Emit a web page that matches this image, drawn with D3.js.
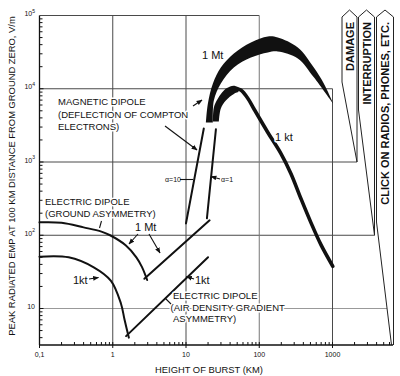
<!DOCTYPE html>
<html>
<head>
<meta charset="utf-8">
<script src="https://cdn.jsdelivr.net/npm/d3@7"></script>
<style>
body { margin: 0; background: #fff; }
text { font-family: "Liberation Sans", Arial, sans-serif; fill: #111; }
.halo { paint-order: stroke; stroke: #fff; stroke-width: 3px; stroke-linejoin: round; }
</style>
</head>
<body>
<script>
// Data (height of burst in km, peak field in V/m)
var hobTicks = [0.1, 1, 10, 100, 1000];
var hobLabels = ["0,1", "1", "10", "100", "1000"];
var empTicks = [10, 100, 1000, 10000, 100000];
var empExp = ["", "2", "3", "4", "5"];

// Electric dipole, ground asymmetry
var ground1Mt = [[0.1, 150], [0.2, 148], [0.4, 128], [0.7, 112], [0.92, 100], [1.5, 73], [2.1, 50], [2.5, 37], [2.95, 24.5]];
var ground1kt = [[0.1, 51], [0.25, 50], [0.55, 36.5], [0.94, 24], [1.29, 11.8], [1.45, 7], [1.66, 4.0]];
// Electric dipole, air density gradient asymmetry
var air1Mt = [[2.7, 25.5], [21, 160]];
var air1kt = [[1.52, 4.2], [20, 50]];
// Magnetic dipole, rising branches for two alpha values
var alpha10 = [[17.5, 2870], [10, 145]];
var alpha1 = [[25.6, 2790], [19.3, 170]];
// Magnetic dipole bands
var mag1MtOuter = [[18.7, 3470], [19.9, 6300], [23.3, 11800], [29.9, 19500], [45, 30300], [77, 42800], [131, 51700], [179, 50100], [336, 36600], [556, 19500], [761, 11800], [1010, 6500]];
var mag1MtInner = [[23.3, 3470], [24, 6900], [29.9, 11800], [45, 19500], [77, 26700], [131, 31300], [179, 32300], [336, 25900], [556, 14300], [1010, 6300]];
var mag1ktOuter = [[23.3, 3580], [24, 5560], [27.3, 7380], [32.9, 9490], [40, 10700], [45, 11000], [52, 10500]];
var mag1ktInner = [[28.1, 3580], [29.9, 5380], [35, 6920], [45, 8500], [52, 9000]];
var mag1ktLine = [[50, 10000], [56, 9600], [70, 7380], [84, 5380], [131, 2530], [197, 1310], [270, 698], [370, 318], [506, 150], [692, 75], [1010, 37.7]];

// Effect arrows on the right
var effects = ["DAMAGE", "INTERRUPTION", "CLICK ON RADIOS, PHONES, ETC."];
var effectLevels = [1000, 100, null];

// Settings
var w = 400, h = 376;
var xEnd = 393, yBottom = 345;

var x = d3.scaleLog().domain([0.1, 1000]).range([39.5, 332.5]);
var y = d3.scaleLog().domain([10, 100000]).range([308.5, 15.5]);

var svg = d3.select("body").append("svg")
  .attr("width", w)
  .attr("height", h);

var defs = svg.append("defs");
defs.append("marker")
  .attr("id", "arr")
  .attr("viewBox", "0 0 10 10")
  .attr("refX", 9).attr("refY", 5)
  .attr("markerWidth", 6).attr("markerHeight", 6)
  .attr("markerUnits", "userSpaceOnUse")
  .attr("orient", "auto")
  .append("path").attr("d", "M0,1 L10,5 L0,9 Z").attr("fill", "#111");

var curve = d3.line()
  .x(function(d) { return x(d[0]); })
  .y(function(d) { return y(d[1]); })
  .curve(d3.curveCatmullRom.alpha(0.5));
var straight = d3.line()
  .x(function(d) { return x(d[0]); })
  .y(function(d) { return y(d[1]); });

// Effect boxes geometry
var boxLeft = [342, 358.5, 376.5];
var boxWidth = [15, 16, 17];
var boxTaper = [82, 110, 222];
var boxTipY = effectLevels.map(function(v) { return v ? y(v) : yBottom; });
var boxTipX = boxLeft.map(function(l, i) { return l + boxWidth[i] - (i == 2 ? 2 : 0); });

// Grid
var grid = svg.append("g").attr("stroke", "#4a4a4a").attr("stroke-width", 1);
function seg(g, x1, y1, x2, y2) {
  return g.append("line").attr("x1", x1).attr("y1", y1).attr("x2", x2).attr("y2", y2);
}
seg(grid, x(0.1), y(1e5), x(100), y(1e5));
seg(grid, x(0.1), y(1e4), x(1000), y(1e4));
seg(grid, x(0.1), y(1e3), boxTipX[0], y(1e3));
seg(grid, x(0.1), y(1e2), boxTipX[1], y(1e2));
seg(grid, x(0.1), y(10), 387, y(10)).attr("stroke", "#999");
[1, 10].forEach(function(v) { seg(grid, x(v), y(1e5), x(v), yBottom); });
seg(grid, x(100), y(1e5), x(100), yBottom).attr("stroke", "#777");
seg(grid, x(1000), y(1e4), x(1000), yBottom);

// Axes
var axes = svg.append("g").attr("stroke", "#111").attr("stroke-width", 1.3);
seg(axes, x(0.1), y(1e5), x(0.1), yBottom);
seg(axes, x(0.1), yBottom, xEnd, yBottom);

var ticks = svg.append("g").attr("stroke", "#111").attr("stroke-width", 1);
[0.1, 1, 10, 100, 1000].forEach(function(d) {
  for (var k = 2; k <= 9; k++) {
    var xv = x(k * d);
    if (xv <= xEnd - 1) seg(ticks, xv, yBottom, xv, yBottom - 3);
  }
});
hobTicks.forEach(function(d) { seg(ticks, x(d), yBottom - 3, x(d), yBottom + 3); });
[1, 10, 100, 1000, 10000].forEach(function(d) {
  for (var k = 1; k <= 9; k++) {
    var yv = y(k * d);
    if (yv <= yBottom - 1) seg(ticks, x(0.1), yv, x(0.1) + (k == 1 ? 4 : 3), yv);
  }
});

// Tick labels
svg.append("g").selectAll("text")
  .data(hobTicks)
  .enter()
  .append("text")
  .attr("x", function(d) { return x(d); })
  .attr("y", yBottom + 12)
  .attr("text-anchor", "middle")
  .style("font-size", "7px")
  .text(function(d, i) { return hobLabels[i]; });

var yl = svg.append("g").selectAll("text")
  .data(empTicks)
  .enter()
  .append("text")
  .attr("x", 35)
  .attr("y", function(d) { return y(d) + 0.5; })
  .attr("text-anchor", "end")
  .style("font-size", "7px");
yl.append("tspan").text("10");
yl.append("tspan")
  .attr("dy", -3.5)
  .style("font-size", "5px")
  .text(function(d, i) { return empExp[i]; });

// Axis titles
svg.append("text")
  .attr("x", 209).attr("y", 372.5)
  .attr("text-anchor", "middle")
  .style("font-size", "9.4px")
  .text("HEIGHT OF BURST (KM)");
svg.append("text")
  .attr("transform", "translate(14.5,176) rotate(-90)")
  .attr("text-anchor", "middle")
  .style("font-size", "9.4px")
  .text("PEAK RADIATED EMP AT 100 KM DISTANCE FROM GROUND ZERO, V/m");

// Effect boxes
effects.forEach(function(name, i) {
  var L = boxLeft[i], R = L + boxWidth[i], mid = (L + R) / 2;
  var p = "M" + L + "," + boxTaper[i] +
    " L" + L + ",17 L" + mid + ",10 L" + R + ",17" +
    " L" + R + "," + boxTipY[i] +
    " M" + L + "," + boxTaper[i] + " L" + boxTipX[i] + "," + boxTipY[i];
  svg.append("path").attr("d", p)
    .attr("fill", "none").attr("stroke", "#222").attr("stroke-width", 1);
  svg.append("text")
    .attr("transform", "translate(" + (mid + 4) + ",22) rotate(-90)")
    .attr("text-anchor", "end")
    .style("font-size", "11px")
    .style("font-weight", "bold")
    .text(name);
});

// Curves
var marks = svg.append("g").attr("fill", "none").attr("stroke", "#111").attr("stroke-linecap", "round");
marks.append("path").attr("d", curve(ground1Mt)).attr("stroke-width", 2);
marks.append("path").attr("d", curve(ground1kt)).attr("stroke-width", 2);
marks.append("path").attr("d", straight(air1Mt)).attr("stroke-width", 2);
marks.append("path").attr("d", straight(air1kt)).attr("stroke-width", 2);
marks.append("path").attr("d", straight(alpha10)).attr("stroke-width", 2);
marks.append("path").attr("d", straight(alpha1)).attr("stroke-width", 2);

function band(outer, inner) {
  var a = curve(outer);
  var b = curve(inner.slice().reverse());
  return a + "L" + b.slice(1) + "Z";
}
svg.append("path").attr("d", band(mag1MtOuter, mag1MtInner)).attr("fill", "#111");
svg.append("path").attr("d", band(mag1ktOuter, mag1ktInner)).attr("fill", "#111");
marks.append("path").attr("d", curve(mag1ktLine)).attr("stroke-width", 3.6);

// Annotations
var notes = svg.append("g").style("font-size", "9.5px");
function label(tx, ty, str, size) {
  return notes.append("text").attr("class", "halo")
    .attr("x", tx).attr("y", ty)
    .style("font-size", size || null)
    .text(str);
}
var ptr = svg.append("g").attr("stroke", "#111").attr("stroke-width", 1.1);
function pointer(x1, y1, x2, y2, head) {
  var l = seg(ptr, x1, y1, x2, y2);
  if (head) l.attr("marker-end", "url(#arr)");
}

label(58, 105, "MAGNETIC DIPOLE");
label(58, 117.5, "(DEFLECTION OF COMPTON");
label(58, 129.5, "ELECTRONS)");
pointer(193, 106, 202, 100, true);
pointer(165, 126, 197, 150, true);

label(165, 182, "\u03b1=10", "7px");
pointer(180, 179.5, 193, 179.5, false);
label(221, 182, "\u03b1=1", "7px");
pointer(220, 179, 211, 176.5, true);

label(202, 59, "1 Mt", "11px");
label(275, 141, "1 kt", "11px");

label(45, 205, "ELECTRIC DIPOLE");
label(45, 216.5, "(GROUND ASYMMETRY)");
pointer(101.5, 221, 99.5, 228, false);

label(135, 231, "1 Mt", "11px");
pointer(138, 234, 129, 244, true);
pointer(149, 234, 160, 253, true);

label(73, 283.5, "1kt", "11px");
pointer(89, 279, 98.5, 277.5, true);
label(195, 283.5, "1kt", "11px");
pointer(194, 279, 186.5, 276.5, true);

label(173, 298.5, "ELECTRIC DIPOLE");
label(170.5, 310.5, "(AIR DENSITY GRADIENT");
label(173, 321.5, "ASYMMETRY)");
pointer(165, 298, 171, 304, false);
</script>
</body>
</html>
